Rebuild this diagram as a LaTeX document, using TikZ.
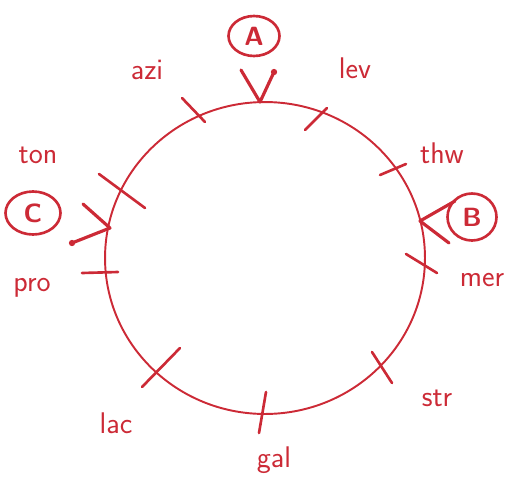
\documentclass[tikz,border=0pt]{standalone}
\usepackage{tikz}
\usetikzlibrary{positioning}
\definecolor{ink}{HTML}{CC2A36}
\tikzset{
  rim/.style={draw=ink,line width=1.1pt},
  tickline/.style={draw=ink,line width=1.5pt,line cap=round},
  pointer/.style={draw=ink,line width=1.8pt,line cap=round,line join=round},
  tag/.style={text=ink,font=\fontsize{17}{20}\selectfont\sffamily,inner sep=0pt},
  badge/.style={ellipse,draw=ink,line width=1.5pt,text=ink,inner sep=0pt,
                font=\fontsize{15}{18}\selectfont\sffamily\bfseries},
}
\usetikzlibrary{shapes.geometric}

\begin{document}
\begin{tikzpicture}[x=0.02cm,y=-0.02cm]
  \useasboundingbox (0,0) rectangle (510,490);
  \coordinate (ctr) at (265,258);
  \draw[rim] (ctr) ellipse [x radius=3.2cm, y radius=3.12cm];
  % ticks round the rim
  \draw[tickline] (182,98) -- (205,122);
  \draw[tickline] (327,108) -- (305,130);
  \draw[tickline] (380,175) -- (406,164);
  \draw[tickline] (99,174) -- (145,208);
  \draw[tickline] (82,273) -- (118,272);
  \draw[tickline] (406,254) -- (437,273);
  \draw[tickline] (372,352) -- (392,383);
  \draw[tickline] (266,392) -- (259,433);
  \draw[tickline] (180,348) -- (142,387);
  % labels
  \node[tag] (azi) at (147,70) {azi};
  \node[tag] (lev) at (355,68) {lev};
  \node[tag] (thw) at (442,153) {thw};
  \node[tag] (ton) at (38,155) {ton};
  \node[tag] (pro) at (32,288) {pro};
  \node[tag] (mer) at (482,280) {mer};
  \node[tag] (str) at (437,398) {str};
  \node[tag] (gal) at (274,460) {gal};
  \node[tag] (lac) at (116,423) {lac};
  % circled letters and their pointers
  \node[badge,minimum width=1.02cm,minimum height=0.8cm] (pa) at (254,36) {A};
  \node[badge,minimum width=0.98cm,minimum height=0.94cm] (pb) at (472,217) {B};
  \node[badge,minimum width=1.1cm,minimum height=0.86cm] (pc) at (33,213) {C};
  \draw[pointer] (241,70) -- (260,102) -- (274,72);
  \fill[ink] (274,72) circle (1.8pt);
  \draw[pointer] (455,201) -- (420,221) -- (449,243);
  \draw[pointer] (83,204) -- (110,228) -- (72,243);
  \fill[ink] (72,243) circle (1.8pt);
\end{tikzpicture}
\end{document}
